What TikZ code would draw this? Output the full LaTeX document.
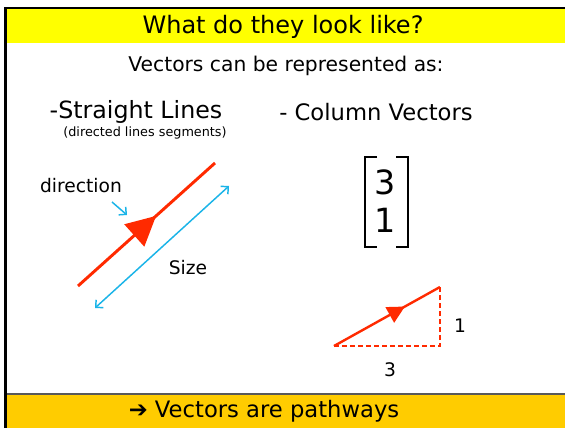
\documentclass[tikz,border=0pt]{standalone}
\usepackage{fontspec}
\setmainfont{DejaVu Sans}
\usetikzlibrary{arrows.meta,decorations.markings}
\definecolor{slideyellow}{HTML}{FFFF00}
\definecolor{slidegold}{HTML}{FFCC00}
\definecolor{vecred}{HTML}{FF2A00}
\definecolor{vecblue}{HTML}{1AB4E8}
\newcommand{\fsz}[1]{\fontsize{#1}{1.2\dimexpr#1pt\relax}\selectfont}

\begin{document}
\begin{tikzpicture}[
  x=0.75pt,
  y=-0.75pt,
  every node/.style={inner sep=0pt, black},
  frameline/.style={black, line width=2.2pt},
  vecline/.style={vecred, line width=2.2pt},
  sizeline/.style={vecblue, line width=1.1pt, {Straight Barb[length=4pt]}-{Straight Barb[length=4pt]}},
  pointer/.style={vecblue, line width=1.1pt, -{Straight Barb[length=4pt]}},
  compline/.style={vecred, line width=1.5pt, dash pattern=on 4pt off 2pt},
  bracket/.style={black, line width=0.8pt},
  midhead/.style 2 args={decoration={markings,
    mark=at position #1 with {\arrow{Triangle[length=#2, width=#2]}}},
    postaction=decorate}
]
  % ---- page size ---------------------------------------------------------
  \path[use as bounding box, fill=white] (0,0) rectangle (565,428);

  % ---- title and foot bands ----------------------------------------------
  \fill[slideyellow] (6,8) rectangle (565,43);
  \fill[slidegold] (6,394) rectangle (565,428);
  \draw[gray!70!black, line width=1.2pt] (6,394) -- (565,394);
  \draw[frameline] (5.5,428) -- (5.5,8) -- (565,8);

  \node (title) at (283,27) {\fsz{18}What do they look like?};
  \node (intro) at (286,66) {\fsz{15.2}Vectors can be represented as:};
  \node (foot) at (264,411) {\fsz{17}➔ Vectors are pathways};

  % ---- straight lines ----------------------------------------------------
  \node (lines) at (136,112) {\fsz{17.8}-Straight Lines};
  \node (linesnote) at (145,133) {\fsz{9.6}(directed lines segments)};

  \coordinate (lineA) at (78,286);
  \coordinate (lineB) at (215,163);
  \draw[vecline, midhead={0.57}{22pt}] (lineA) -- (lineB);

  \coordinate (sizeA) at (95,308);
  \coordinate (sizeB) at (229,186);
  \draw[sizeline] (sizeA) -- (sizeB);

  \node (direction) at (81,186) {\fsz{14}direction};
  \coordinate (dirtip) at (127,215);
  \draw[pointer] (112,202) -- (dirtip);
  \node (size) at (188,268) {\fsz{14}Size};

  % ---- column vectors ----------------------------------------------------
  \node (columns) at (376,112) {\fsz{17}- Column Vectors};

  \draw[bracket] (377,157) -- (365,157) -- (365,247) -- (377,247);
  \draw[bracket] (396,157) -- (408,157) -- (408,247) -- (396,247);
  \node (top) at (385,182) {\fsz{25}3};
  \node (bottom) at (385,220) {\fsz{25}1};

  \coordinate (triA) at (334,346);
  \coordinate (triB) at (440,346);
  \coordinate (triC) at (440,287);
  \draw[compline] (triA) -- (triB) -- (triC);
  \draw[vecline, line width=1.8pt, midhead={0.67}{13pt}] (triA) -- (triC);
  \node (rise) at (460,326) {\fsz{14}1};
  \node (run) at (390,370) {\fsz{14}3};
\end{tikzpicture}
\end{document}
